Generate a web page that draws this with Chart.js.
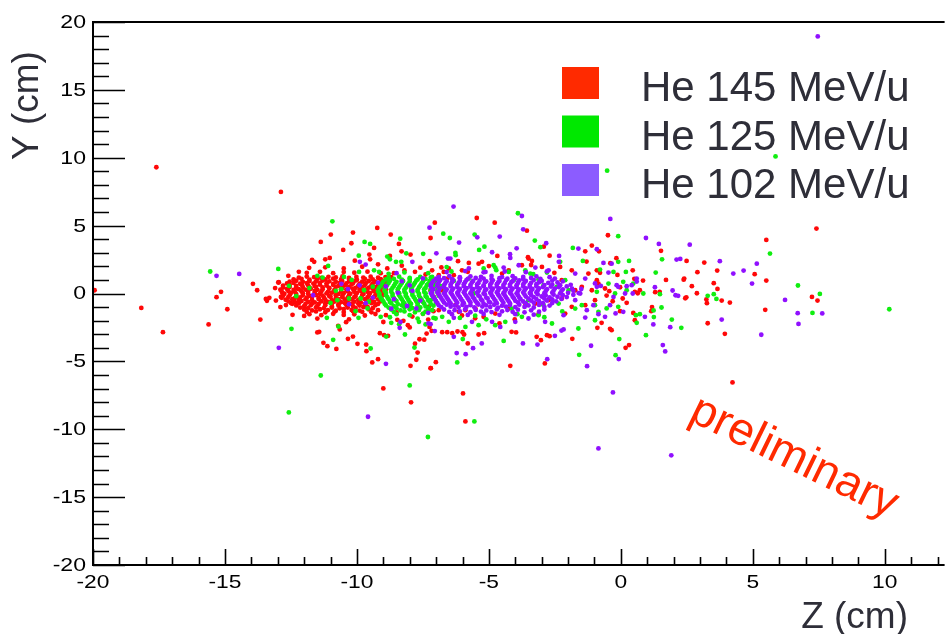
<!DOCTYPE html>
<html>
<head>
<meta charset="utf-8">
<title>He beam vertex distribution</title>
<script src="https://cdn.jsdelivr.net/npm/chart.js@4.4.1/dist/chart.umd.min.js"></script>
<style>
  html, body { margin: 0; padding: 0; background: #fff; }
  canvas { display: block; }
</style>
</head>
<body>
<canvas id="vertex" width="945" height="634"></canvas>
<script>
'use strict';

// series labels and colours (points / legend boxes)
var seriesLabels = ['He 145 MeV/u', 'He 125 MeV/u', 'He 102 MeV/u'];
var pointColors = ['#ff0808', '#10ee10', '#9010ff'];
var legendColors = ['#ff2a00', '#00e800', '#8c5cff'];

// tick labels
var zTickLabels = [-20, -15, -10, -5, 0, 5, 10];
var yTickLabels = [-20, -15, -10, -5, 0, 5, 10, 15, 20];

// He 145 MeV/u  [Z, Y] in cm
var he145 = [
  [-19.94,0.24],[-18.17,-1.06],[-17.6,9.3],[-17.35,-2.85],[-15.62,-2.28],[-15.15,0.12],[-15.32,-0.27],[-14.91,-1.16],[-13.94,0.71],[-13.78,0.24],
  [-13.45,-0.4],[-13.41,-0.54],[-13.66,-1.92],[-12.88,7.48],[-12.96,0.83],[-11.5,-2.87],[-11.43,-2.82],[-11.27,-3.63],[-11.12,-3.88],[-10.78,-4.08],
  [-11.37,3.8],[-10.99,4.34],[-10.15,4.49],[-9.23,4.83],[-8.72,4.34],[-10.21,3.7],[-9.35,3.36],[-8.41,3.65],[-10.52,3.21],[-8.31,3.11],
  [-7.97,2.87],[-7.21,4.09],[-11.7,2.47],[-11.62,2.33],[-11.2,2.52],[-11.03,2.62],[-10.08,2.42],[-9.53,2.87],[-9.5,2.52],[-8.75,2.77],
  [-7.24,2.38],[-11.81,1.89],[-12.98,0.81],[-13.32,-0.32],[-13.07,-0.52],[-12.82,0.0],[-12.88,-0.25],[-12.69,-0.85],[-12.5,-0.7],[-12.44,-1.57],[-12.0,-1.65],
  [-9.64,-4.25],[-9.42,-5.08],[-9.2,-4.84],[-9.0,-6.99],[-7.95,-8.02],[-7.2,-5.5],[-7.97,-5.33],[-7.75,-4.88],[-7.7,-4.35],[-7.8,-3.7],
  [-7.63,-3.37],[-7.45,-3.4],[-7.36,-2.95],[-10.71,-2.38],[-10.65,-2.65],[-10.41,-2.11],[-10.34,-3.34],[-10.15,-3.17],[-9.98,-3.71],[-9.65,-3.76],
  [-8.97,-3.07],[-8.82,-3.12],[-9.13,-2.92],[-8.47,-1.94],[-8.24,-2.01],[-8.07,-2.33],[-8.0,-2.5],[-7.3,-1.92],[-7.25,-2.46],
  [-8.6,1.5],[-8.2,1.7],[-7.6,1.9],[-7.4,1.4],[-8.9,-1.6],[-8.5,-1.4],[-7.9,-1.7],[-7.5,-1.5],[-7.1,-1.3],[-8.7,1.2],[-7.8,1.6],
  [-5.46,5.56],[-7.05,5.22],[-4.78,5.22],[-3.56,4.63],[-2.92,3.45],[-1.1,3.53],[-1.35,3.11],[-2.7,2.79],[-4.68,2.77],[-6.17,2.38],
  [-3.52,2.67],[-3.37,2.4],[-1.3,2.35],[-7.17,-2.75],[-6.77,-2.85],[-6.58,-2.85],[-6.39,-2.92],[-6.19,-2.8],[-6.0,-2.85],[-5.94,-3.02],
  [-5.39,-3.02],[-5.18,-2.92],[-5.8,-3.68],[-4.14,-2.82],[-3.97,-2.87],[-3.19,-3.19],[-3.03,-3.44],[-2.8,-3.07],[-2.7,-3.14],[-1.84,-3.34],
  [-7.01,-5.06],[-7.21,-5.5],[-4.19,-5.33],[-2.88,-5.15],[-5.98,-7.36],[-5.89,-9.42],
  [-0.49,4.29],[1.52,3.14],[-0.83,3.11],[-0.17,2.6],[-0.4,2.23],[2.49,2.4],[3.16,2.28],[5.51,3.95],[5.07,1.42],[3.65,1.69],
  [2.9,1.57],[1.71,1.0],[2.4,1.1],[2.38,1.02],[2.69,0.54],[3.52,0.76],[3.66,0.34],[5.51,0.95],[0.84,0.95],[1.47,0.12],
  [1.3,0.1],[2.44,-0.35],[2.48,-0.28],[2.88,0.02],[3.24,-0.44],[3.26,-0.71],[3.82,-0.52],[4.13,-0.67],[3.29,-2.19],[3.94,-2.97],
  [5.47,-1.2],[1.18,-1.0],[1.15,-1.3],[0.31,-3.8],[0.18,-4.0],[4.23,-6.55],[7.41,4.78],[7.24,-0.25],[7.45,-0.52],
  [-0.79,1.52],[-0.91,0.98],[-0.85,0.73],[-0.6,0.37],[-0.54,-0.15],[-0.44,0.17],[-0.31,-0.57],[-0.13,1.37],[-0.03,0.46],[0.07,-0.37],
  [0.22,-0.69],[0.45,1.71],[0.51,1.08],[0.53,0.12],[0.64,0.02],[0.47,-1.43],[0.53,-1.97],[0.72,0.24],[-0.89,-2.53],[-0.41,-2.6],
  [-0.35,-2.7],[-0.03,-1.3],[-0.73,-2.16],
  [-5.76,2.25],[-5.26,2.33],[-4.5,1.47],[-3.5,2.57],[-2.99,1.96],[-2.3,1.96],[-2.24,0.98],[-7.28,-0.98],[-6.9,-1.23],[-6.27,-0.86],
  [-6.14,-1.35],[-5.89,-1.23],[-5.51,-1.11],[-5.2,-1.72],[-4.76,-1.48],[-4.25,-1.11],[-3.62,-0.86],[-3.24,-0.74],[-2.74,-0.49],[-2.24,-0.37],
  [-1.73,0.24],[-1.48,0.49],[-1.1,0.24],[-0.98,-0.49],[-1.35,-0.86],[-1.86,-0.98],[-2.11,-1.48],
  [-7.15,1.71],[-6.9,1.35],[-6.71,1.59],[-6.58,1.1],[-7.02,0.73],[-7.21,0.24],[-6.77,0.24],[-7.09,-0.25],[-6.52,1.84],[-6.02,1.71],
  [-6.33,1.35],[-5.39,2.2],[-4.25,1.71],[-3.75,2.08],[-1.86,1.71],[-1.23,1.47],[-0.91,1.71],
  [-6.8,1.92],[-5.0,2.02],[-4.02,-1.91],[-5.52,-1.83],[-3.12,-1.52],[-2.52,1.52],[-6.02,-1.62],[-4.6,-2.2],[-3.4,2.1],[-5.8,1.6],
  [-8.85,1.85],[-8.3,2.05],[-9.2,2.15],[-12.6,1.3],[-12.9,-1.0],[-13.1,0.4],[-12.2,1.6],[-11.5,-1.85],[-10.3,-1.9],[-9.0,-2.1],
  // dense core
  [-11.2,1.93],[-10.5,1.85],[-9.8,1.97],
  [-11.9,1.52],[-11.4,1.6],[-10.9,1.5],[-10.5,1.58],[-10.1,1.53],[-9.6,1.61],[-9.1,1.5],
  [-12.2,1.17],[-11.9,1.25],[-11.62,1.2],[-11.35,1.14],[-11.08,1.23],[-10.8,1.18],[-10.55,1.26],[-10.3,1.15],[-10.02,1.22],[-9.76,1.17],[-9.48,1.24],[-9.2,1.16],[-8.92,1.21],
  [-12.4,1.04],[-12.1,1.08],[-11.8,1.02],[-11.5,1.07],[-11.2,1.03],[-10.9,1.09],[-10.6,1.04],[-10.3,1.06],[-10.0,1.01],[-9.7,1.08],[-9.4,1.03],[-9.1,1.06],
  [-12.55,0.88],[-12.3,0.94],[-12.05,0.86],[-11.8,0.92],[-11.56,0.87],[-11.3,0.95],[-11.05,0.9],[-10.8,0.86],[-10.56,0.93],[-10.3,0.89],[-10.05,0.95],[-9.8,0.87],[-9.55,0.92],[-9.3,0.88],[-9.05,0.94],[-8.8,0.9],
  [-12.65,0.74],[-12.4,0.78],[-12.15,0.72],[-11.9,0.77],[-11.65,0.73],[-11.4,0.79],[-11.15,0.75],[-10.9,0.71],[-10.65,0.78],[-10.4,0.74],[-10.15,0.76],[-9.9,0.72],[-9.65,0.79],[-9.4,0.73],[-9.15,0.77],[-8.9,0.74],
  [-12.8,0.58],[-12.55,0.64],[-12.3,0.56],[-12.08,0.62],[-11.85,0.6],[-11.6,0.55],[-11.4,0.65],[-11.15,0.59],[-10.9,0.63],[-10.7,0.56],[-10.45,0.61],[-10.2,0.66],[-9.95,0.57],[-9.7,0.62],[-9.45,0.59],[-9.2,0.64],[-8.95,0.57],
  [-12.8,0.44],[-12.55,0.48],[-12.3,0.42],[-12.05,0.47],[-11.8,0.43],[-11.55,0.49],[-11.3,0.45],[-11.05,0.41],[-10.8,0.48],[-10.55,0.44],[-10.3,0.46],[-10.05,0.42],[-9.8,0.49],[-9.55,0.43],[-9.3,0.47],[-9.05,0.44],
  [-12.9,0.28],[-12.65,0.34],[-12.4,0.26],[-12.2,0.32],[-11.95,0.29],[-11.75,0.35],[-11.5,0.27],[-11.3,0.31],[-11.05,0.36],[-10.85,0.26],[-10.6,0.32],[-10.4,0.29],[-10.15,0.34],[-9.9,0.27],[-9.65,0.31],[-9.4,0.35],[-9.15,0.28],[-8.9,0.32],
  [-12.85,0.14],[-12.6,0.18],[-12.35,0.12],[-12.1,0.17],[-11.85,0.13],[-11.6,0.19],[-11.35,0.15],[-11.1,0.11],[-10.85,0.18],[-10.6,0.14],[-10.35,0.16],[-10.1,0.12],[-9.85,0.19],[-9.6,0.13],[-9.35,0.17],[-9.1,0.14],
  [-12.75,-0.02],[-12.5,0.04],[-12.3,-0.04],[-12.05,0.02],[-11.85,-0.01],[-11.6,0.05],[-11.4,-0.03],[-11.15,0.01],[-10.95,0.06],[-10.7,-0.04],[-10.5,0.02],[-10.25,-0.01],[-10.0,0.04],[-9.75,-0.03],[-9.5,0.03],[-9.25,-0.02],[-9.0,0.05],
  [-12.8,-0.16],[-12.55,-0.12],[-12.3,-0.18],[-12.05,-0.13],[-11.8,-0.17],[-11.55,-0.11],[-11.3,-0.15],[-11.05,-0.19],[-10.8,-0.12],[-10.55,-0.16],[-10.3,-0.14],[-10.05,-0.18],[-9.8,-0.11],[-9.55,-0.17],[-9.3,-0.13],[-9.05,-0.16],
  [-12.85,-0.32],[-12.6,-0.26],[-12.35,-0.34],[-12.15,-0.28],[-11.9,-0.31],[-11.7,-0.25],[-11.45,-0.33],[-11.25,-0.29],[-11.0,-0.24],[-10.8,-0.34],[-10.55,-0.28],[-10.35,-0.31],[-10.1,-0.26],[-9.85,-0.33],[-9.6,-0.29],[-9.35,-0.25],[-9.1,-0.32],
  [-12.7,-0.46],[-12.45,-0.42],[-12.2,-0.48],[-11.95,-0.43],[-11.7,-0.47],[-11.45,-0.41],[-11.2,-0.45],[-10.95,-0.49],[-10.7,-0.42],[-10.45,-0.46],[-10.2,-0.44],[-9.95,-0.48],[-9.7,-0.41],[-9.45,-0.47],[-9.2,-0.43],
  [-12.6,-0.58],[-12.35,-0.63],[-12.1,-0.56],[-11.85,-0.61],[-11.6,-0.65],[-11.35,-0.57],[-11.1,-0.62],[-10.85,-0.59],[-10.6,-0.64],[-10.35,-0.56],[-10.1,-0.6],[-9.85,-0.66],[-9.6,-0.58],[-9.35,-0.62],[-9.1,-0.57],
  [-12.45,-0.76],[-12.2,-0.72],[-11.95,-0.78],[-11.7,-0.73],[-11.45,-0.77],[-11.2,-0.71],[-10.95,-0.75],[-10.7,-0.79],[-10.45,-0.72],[-10.2,-0.76],[-9.95,-0.74],[-9.7,-0.78],[-9.45,-0.71],[-9.2,-0.77],
  [-12.3,-0.88],[-12.0,-0.94],[-11.75,-0.87],[-11.5,-0.92],[-11.2,-0.86],[-10.95,-0.95],[-10.7,-0.9],[-10.4,-0.85],[-10.15,-0.93],[-9.9,-0.89],[-9.6,-0.96],[-9.3,-0.87],
  [-12.15,-1.04],[-11.85,-1.08],[-11.55,-1.02],[-11.25,-1.07],[-10.95,-1.03],[-10.65,-1.09],[-10.35,-1.04],[-10.05,-1.06],[-9.75,-1.01],[-9.4,-1.08],
  [-12.0,-1.18],[-11.7,-1.25],[-11.4,-1.16],[-11.1,-1.22],[-10.8,-1.27],[-10.5,-1.15],[-10.2,-1.21],[-9.9,-1.26],[-9.55,-1.17],[-9.2,-1.23],
  [-11.9,-1.36],[-11.55,-1.32],[-11.2,-1.38],[-10.85,-1.33],[-10.5,-1.37],[-10.15,-1.31],[-9.8,-1.35],[-9.45,-1.39],
  [-11.8,-1.52],[-11.35,-1.6],[-10.9,-1.5],[-10.5,-1.58],[-10.1,-1.53],[-9.7,-1.62],[-9.3,-1.51]
];

// He 125 MeV/u  [Z, Y] in cm
var he125 = [
  [-15.56,1.62],[-12.98,1.81],[-12.57,0.56],[-12.48,-2.6],[-12.58,-8.76],[-11.37,-6.04],[-10.93,5.32],[-9.71,3.8],[-9.5,3.65],[-8.36,4.04],
  [-8.13,2.96],[-7.49,2.92],[-11.09,2.03],[-9.93,2.79],[-8.52,2.33],[-8.32,2.33],[-8.75,2.52],[-8.85,2.72],[-10.9,-3.41],[-9.48,-4.05],
  [-8.0,-6.77],[-7.31,-10.57],[-7.82,-3.98],[-8.89,-3.17],[-10.7,-2.43],[-8.18,-3.02],[-8.7,-2.16],[-8.4,-2.26],[-7.65,-2.09],[-7.4,-2.28],[-7.1,-1.8],
  [-11.3,1.17],[-10.59,0.32],[-10.3,-0.37],[-9.73,0.24],[-9.86,-0.37],[-9.92,1.59],[-10.74,-0.49],[-11.14,-1.79],[-9.94,-1.79],[-9.1,-1.72],
  [-10.49,1.22],[-9.35,1.71],[-9.16,1.59],
  [-11.8,0.4],[-11.0,-0.7],[-10.2,1.0],[-12.3,-0.2],[-9.6,-1.1],[-10.8,0.2],[-11.5,1.3],[-9.4,0.5],[-9.55,-0.6],[-10.05,-1.3],
  [-7.21,-0.49],[-7.15,1.22],[-6.96,0.49],[-6.65,0.24],[-6.33,0.93],[-5.76,1.1],[-5.57,0.0],[-4.82,2.08],[-4.76,1.91],[-5.2,1.84],
  [-4.25,1.59],[-4.06,0.98],[-3.62,1.71],[-3.43,1.47],[-3.12,1.03],[-2.93,0.61],[-2.8,1.54],[-2.43,0.49],[-2.3,2.33],[-2.11,0.98],
  [-1.98,0.24],[-1.73,-1.11],[-1.48,-0.86],[-2.36,-0.74],[-2.93,-0.86],[-3.5,-0.49],[-4.13,-1.11],[-4.38,-2.09],[-4.76,-2.33],[-5.39,-2.33],
  [-5.89,-2.46],[-6.52,-2.09],[-6.77,-1.72],[-7.02,-1.84],[-7.15,-1.23],[-3.75,-1.72],[-3.12,-1.6],[-2.61,-2.21],[-1.61,-2.58],[-0.98,-1.97],
  [-6.42,1.62],[-5.52,-1.64],[-4.72,1.72],[-3.92,-1.52],[-3.32,1.42],[-2.22,-1.32],[-6.1,-1.8],[-5.1,-1.9],[-2.9,-1.75],[-6.6,1.95],
  [-6.73,4.41],[-6.48,4.09],[-5.54,4.34],[-5.17,3.45],[-5.37,3.21],[-3.26,3.9],[-3.05,3.41],[-1.82,3.36],[-1.44,2.4],[-6.27,3.0],[-6.26,2.82],[-3.9,5.91],
  [-5.99,-3.36],[-4.44,-3.49],[-1.58,-4.52],[-6.2,-5.08],[-5.55,-9.42],
  [-0.52,9.05],[-0.1,4.22],[-0.1,2.33],[0.31,2.4],[1.56,2.52],[1.32,1.54],[1.48,-0.05],[3.29,-0.17],[3.52,-0.05],[3.62,-0.4],
  [1.54,-1.03],[2.29,-2.53],[1.93,-1.92],[1.24,-1.25],[1.25,-1.74],[0.95,-3.07],[-0.06,-3.36],[-0.2,-4.54],
  [-0.91,0.12],[-0.79,1.76],[-0.47,0.73],[-0.28,1.59],[-0.22,0.0],[0.09,0.86],[0.19,1.59],[0.22,0.24],[0.47,0.73],[0.57,-1.6],
  [0.85,0.0],[-0.85,-1.35],[-0.54,-1.1],[-0.98,-0.86],[-0.1,-0.98],[0.6,-2.16],[0.72,-1.52],
  [5.86,10.1],[5.65,2.94],[6.71,0.59],[7.54,-0.03],[7.26,-1.43],[10.17,-1.16],
  // dense core
  [-8.8,1.17],[-8.4,1.24],[-8.0,1.15],[-7.6,1.22],[-7.2,1.18],
  [-8.9,1.04],[-8.6,1.08],[-8.3,1.02],[-8.0,1.07],[-7.7,1.03],[-7.4,1.06],[-7.1,1.01],
  [-9.0,0.88],[-8.75,0.94],[-8.5,0.86],[-8.25,0.92],[-8.0,0.89],[-7.75,0.95],[-7.5,0.87],[-7.25,0.93],[-7.0,0.9],
  [-9.05,0.74],[-8.8,0.78],[-8.55,0.72],[-8.3,0.77],[-8.05,0.73],[-7.8,0.79],[-7.55,0.75],[-7.3,0.71],[-7.05,0.77],
  [-9.1,0.58],[-8.85,0.64],[-8.6,0.56],[-8.35,0.62],[-8.1,0.59],[-7.85,0.65],[-7.6,0.57],[-7.35,0.61],[-7.1,0.63],[-6.85,0.56],
  [-9.15,0.44],[-8.9,0.48],[-8.65,0.42],[-8.4,0.47],[-8.15,0.43],[-7.9,0.49],[-7.65,0.45],[-7.4,0.41],[-7.15,0.47],[-6.9,0.43],
  [-9.2,0.28],[-8.95,0.34],[-8.7,0.26],[-8.45,0.32],[-8.2,0.29],[-7.95,0.35],[-7.7,0.27],[-7.45,0.31],[-7.2,0.34],[-6.95,0.26],
  [-9.2,0.14],[-8.95,0.18],[-8.7,0.12],[-8.45,0.17],[-8.2,0.13],[-7.95,0.19],[-7.7,0.15],[-7.45,0.11],[-7.2,0.17],[-6.95,0.13],
  [-9.15,-0.02],[-8.9,0.04],[-8.65,-0.04],[-8.4,0.02],[-8.15,-0.01],[-7.9,0.05],[-7.65,-0.03],[-7.4,0.01],[-7.15,0.04],[-6.9,-0.03],
  [-9.15,-0.16],[-8.9,-0.12],[-8.65,-0.18],[-8.4,-0.13],[-8.15,-0.17],[-7.9,-0.11],[-7.65,-0.15],[-7.4,-0.19],[-7.15,-0.12],[-6.9,-0.16],
  [-9.1,-0.32],[-8.85,-0.26],[-8.6,-0.34],[-8.35,-0.28],[-8.1,-0.31],[-7.85,-0.25],[-7.6,-0.33],[-7.35,-0.29],[-7.1,-0.26],
  [-9.05,-0.46],[-8.8,-0.42],[-8.55,-0.48],[-8.3,-0.43],[-8.05,-0.47],[-7.8,-0.41],[-7.55,-0.45],[-7.3,-0.49],[-7.05,-0.42],
  [-9.0,-0.58],[-8.75,-0.63],[-8.5,-0.56],[-8.25,-0.61],[-8.0,-0.65],[-7.75,-0.57],[-7.5,-0.62],[-7.25,-0.59],[-7.0,-0.64],
  [-8.95,-0.76],[-8.7,-0.72],[-8.45,-0.78],[-8.2,-0.73],[-7.95,-0.77],[-7.7,-0.71],[-7.45,-0.75],[-7.2,-0.79],
  [-8.9,-0.88],[-8.6,-0.94],[-8.3,-0.87],[-8.0,-0.92],[-7.7,-0.86],[-7.4,-0.95],[-7.1,-0.9],
  [-8.8,-1.04],[-8.5,-1.08],[-8.2,-1.02],[-7.9,-1.07],[-7.6,-1.03],[-7.3,-1.06],
  [-8.7,-1.18],[-8.35,-1.25],[-8.0,-1.16],[-7.65,-1.22],[-7.3,-1.27],
  [-8.6,-1.36],[-8.2,-1.32],[-7.8,-1.38],[-7.4,-1.33],
  [-8.5,-1.52],[-8.0,-1.6],[-7.5,-1.5],[-8.8,1.45],[-8.2,1.55],[-7.3,1.5],[-8.75,-1.75],[-7.7,-1.85]
];

// He 102 MeV/u  [Z, Y] in cm
var he102 = [
  [-15.32,1.3],[-14.46,1.44],[-12.96,-4.0],[-11.66,-0.13],[-10.59,0.71],[-10.34,0.32],[-9.67,-0.71],[-9.89,2.33],[-9.67,2.13],[-7.9,2.33],
  [-7.25,4.85],[-8.9,-5.18],[-9.58,-9.08],[-8.38,-2.53],[-8.35,-2.1],[-7.29,-2.2],[7.46,18.94],
  [-8.9,0.52],[-8.6,-0.42],[-8.3,0.9],[-8.1,-0.92],[-7.9,0.2],[-7.6,-0.52],[-7.5,1.12],[-8.7,-1.12],[-9.2,0.8],[-7.3,-1.42],
  [-8.45,0.05],[-9.4,-0.3],[-9.9,0.6],[-10.3,-0.8],[-8.0,0.6],[-7.75,-1.1],[-8.5,1.5],
  [-6.34,6.4],[-3.75,5.71],[-3.7,4.73],[-5.44,4.14],[-4.59,4.19],[-6.13,3.75],[-2.83,3.7],[-3.95,3.33],[-1.61,3.31],
  [-0.91,3.26],[-6.99,2.96],[-4.88,3.04],[-4.2,2.9],[-4.19,2.62],[-6.46,2.57],[-6.55,2.57],[-2.34,2.77],[-2.35,2.33],
  [-7.21,-2.26],[-7.05,-2.77],[-6.33,-3.19],[-5.27,-3.68],[-5.6,-4.03],[-3.71,-3.68],[-3.16,-3.76],[-2.5,-3.12],[-2.25,-2.73],[-2.17,-2.65],
  [-1.13,-3.85],[-1.28,-5.35],[-6.22,-4.39],[-5.88,-4.47],[-2.79,-4.84],
  [-0.4,5.49],[0.95,4.09],[1.44,3.65],[2.61,3.6],[2.11,2.5],[2.25,2.55],[3.75,2.38],[5.15,2.2],[4.65,1.69],[4.26,1.47],
  [4.97,0.73],[0.6,0.88],[1.29,0.46],[1.96,0.22],[2.07,-0.13],[2.17,-0.17],[3.82,-1.92],[5.32,-3.04],[1.87,-2.48],[1.23,-2.28],
  [1.59,-3.8],[1.68,-4.27],[-0.08,-4.83],[-0.3,-7.29],[-0.85,-11.41],[1.91,-11.92],
  [-0.91,0.49],[-0.76,0.56],[-0.47,1.54],[-0.35,2.2],[-0.66,2.25],[-0.16,0.61],[-0.1,0.49],[0.22,0.54],[0.41,0.61],[0.45,0.0],
  [0.16,0.0],[-0.28,-0.25],[-0.41,-0.86],[-0.2,-1.47],[-0.6,-1.72],[-0.85,-1.52],[0.09,-1.35],[0.6,1.1],[0.91,-1.72],
  [6.22,-0.47],[6.7,-1.45],[7.63,-1.47],[6.73,-2.24],
  [-6.33,-1.79],[-5.64,-2.09],[-4.88,-2.09],[-4.57,-2.46],[-4.0,-2.09],[-3.5,-1.84],[-2.87,-2.09],[-2.17,-1.6],[-1.35,-1.77],[-1.29,-1.23],
  [-1.04,-0.86],[-1.73,-0.49],[-1.54,0.0],[-0.98,0.74],[-1.35,1.1],[-1.73,1.47],[-5.76,1.84],[-5.13,1.59],[-4.44,1.91],[-3.87,2.08],
  [-3.24,1.91],[-2.74,1.71],
  // dense core
  [-6.6,1.58],[-5.9,1.65],[-5.2,1.56],[-4.4,1.62],[-3.6,1.57],[-2.8,1.63],
  [-6.9,1.22],[-6.5,1.28],[-6.1,1.2],[-5.7,1.26],[-5.3,1.23],[-4.9,1.29],[-4.5,1.21],[-4.1,1.27],[-3.7,1.22],[-3.2,1.26],[-2.7,1.2],
  [-7.0,1.09],[-6.7,1.13],[-6.4,1.07],[-6.1,1.12],[-5.8,1.08],[-5.5,1.14],[-5.2,1.1],[-4.9,1.06],[-4.6,1.13],[-4.3,1.09],[-4.0,1.11],[-3.7,1.07],[-3.4,1.14],[-3.05,1.08],[-2.5,1.1],
  [-7.1,0.93],[-6.85,0.98],[-6.6,0.91],[-6.35,0.97],[-6.1,0.94],[-5.85,0.99],[-5.6,0.92],[-5.35,0.96],[-5.1,0.9],[-4.85,0.97],
  [-4.6,0.93],[-4.35,0.98],[-4.1,0.91],[-3.85,0.96],[-3.6,0.93],[-3.3,0.99],[-3.0,0.92],[-2.6,0.95],[-2.2,0.9],
  [-7.15,0.79],[-6.9,0.83],[-6.65,0.77],[-6.4,0.82],[-6.15,0.78],[-5.9,0.84],[-5.65,0.8],[-5.4,0.76],[-5.15,0.83],[-4.9,0.79],
  [-4.65,0.81],[-4.4,0.77],[-4.15,0.84],[-3.9,0.78],[-3.65,0.82],[-3.4,0.79],[-3.1,0.83],[-2.75,0.78],[-2.4,0.81],
  [-7.2,0.63],[-6.95,0.68],[-6.7,0.61],[-6.45,0.66],[-6.2,0.64],[-5.95,0.69],[-5.7,0.62],[-5.45,0.67],[-5.2,0.6],[-4.95,0.65],
  [-4.7,0.68],[-4.45,0.62],[-4.2,0.66],[-3.95,0.61],[-3.7,0.67],[-3.45,0.63],[-3.2,0.68],[-2.9,0.62],[-2.6,0.66],[-2.3,0.61],[-1.9,0.64],
  [-7.2,0.49],[-6.95,0.53],[-6.7,0.47],[-6.45,0.52],[-6.2,0.48],[-5.95,0.54],[-5.7,0.5],[-5.45,0.46],[-5.2,0.53],[-4.95,0.49],
  [-4.7,0.51],[-4.45,0.47],[-4.2,0.54],[-3.95,0.48],[-3.7,0.52],[-3.45,0.49],[-3.2,0.53],[-2.95,0.47],[-2.65,0.51],[-2.35,0.48],[-2.05,0.52],
  [-7.1,0.33],[-6.85,0.38],[-6.6,0.31],[-6.35,0.36],[-6.1,0.34],[-5.85,0.39],[-5.6,0.32],[-5.35,0.37],[-5.1,0.3],[-4.85,0.35],[-4.6,0.38],
  [-4.35,0.32],[-4.1,0.36],[-3.85,0.31],[-3.6,0.37],[-3.35,0.33],[-3.1,0.38],[-2.8,0.32],[-2.5,0.36],[-2.2,0.31],[-1.85,0.35],[-1.5,0.33],
  [-7.15,0.19],[-6.9,0.23],[-6.65,0.17],[-6.4,0.22],[-6.15,0.18],[-5.9,0.24],[-5.65,0.2],[-5.4,0.16],[-5.15,0.23],[-4.9,0.19],
  [-4.65,0.21],[-4.4,0.17],[-4.15,0.24],[-3.9,0.18],[-3.65,0.22],[-3.4,0.19],[-3.15,0.23],[-2.85,0.17],[-2.55,0.21],[-2.25,0.18],[-1.8,0.2],
  [-7.2,0.03],[-6.95,0.08],[-6.7,0.01],[-6.45,0.06],[-6.2,0.04],[-5.95,0.09],[-5.7,0.02],[-5.45,0.07],[-5.2,0.0],[-4.95,0.05],[-4.7,0.08],
  [-4.45,0.02],[-4.2,0.06],[-3.95,0.01],[-3.7,0.07],[-3.45,0.03],[-3.2,0.08],[-2.9,0.02],[-2.6,0.06],[-2.3,0.01],[-2.0,0.05],[-1.6,0.03],
  [-7.15,-0.11],[-6.9,-0.07],[-6.65,-0.13],[-6.4,-0.08],[-6.15,-0.12],[-5.9,-0.06],[-5.65,-0.1],[-5.4,-0.14],[-5.15,-0.07],[-4.9,-0.11],
  [-4.65,-0.09],[-4.4,-0.13],[-4.15,-0.06],[-3.9,-0.12],[-3.65,-0.08],[-3.4,-0.11],[-3.15,-0.07],[-2.85,-0.13],[-2.55,-0.09],[-2.2,-0.12],[-1.8,-0.1],
  [-7.1,-0.27],[-6.85,-0.22],[-6.6,-0.29],[-6.35,-0.24],[-6.1,-0.26],[-5.85,-0.21],[-5.6,-0.28],[-5.35,-0.23],[-5.1,-0.3],[-4.85,-0.25],
  [-4.6,-0.22],[-4.35,-0.28],[-4.1,-0.24],[-3.85,-0.29],[-3.6,-0.23],[-3.3,-0.27],[-3.0,-0.22],[-2.7,-0.28],[-2.4,-0.24],[-2.05,-0.26],
  [-7.05,-0.41],[-6.8,-0.37],[-6.55,-0.43],[-6.3,-0.38],[-6.05,-0.42],[-5.8,-0.36],[-5.55,-0.4],[-5.3,-0.44],[-5.05,-0.37],[-4.8,-0.41],
  [-4.55,-0.39],[-4.3,-0.43],[-4.05,-0.36],[-3.8,-0.42],[-3.5,-0.38],[-3.2,-0.41],[-2.9,-0.37],[-2.6,-0.43],[-2.25,-0.4],
  [-7.0,-0.57],[-6.75,-0.52],[-6.5,-0.59],[-6.25,-0.54],[-6.0,-0.56],[-5.75,-0.51],[-5.5,-0.58],[-5.25,-0.53],[-5.0,-0.6],[-4.75,-0.55],
  [-4.5,-0.52],[-4.25,-0.58],[-4.0,-0.54],[-3.7,-0.59],[-3.4,-0.53],[-3.1,-0.57],[-2.8,-0.52],[-2.45,-0.58],
  [-6.95,-0.71],[-6.7,-0.67],[-6.45,-0.73],[-6.2,-0.68],[-5.95,-0.72],[-5.7,-0.66],[-5.45,-0.7],[-5.2,-0.74],[-4.95,-0.67],[-4.7,-0.71],
  [-4.45,-0.69],[-4.2,-0.73],[-3.9,-0.66],[-3.6,-0.72],[-3.3,-0.68],[-2.95,-0.71],[-2.6,-0.7],
  [-6.9,-0.87],[-6.6,-0.82],[-6.3,-0.89],[-6.0,-0.84],[-5.7,-0.86],[-5.4,-0.81],[-5.1,-0.88],[-4.8,-0.83],[-4.5,-0.9],[-4.2,-0.85],
  [-3.85,-0.82],[-3.5,-0.88],[-3.1,-0.84],[-2.7,-0.89],
  [-6.8,-1.01],[-6.45,-0.97],[-6.15,-1.03],[-5.85,-0.98],[-5.55,-1.02],[-5.25,-0.96],[-4.95,-1.0],[-4.65,-1.04],[-4.35,-0.97],[-4.0,-1.01],
  [-3.65,-0.99],[-3.3,-1.03],[-2.9,-0.98],
  [-6.7,-1.18],[-6.3,-1.23],[-5.9,-1.16],[-5.5,-1.21],[-5.1,-1.25],[-4.7,-1.17],[-4.3,-1.22],[-3.9,-1.19],[-3.4,-1.24],[-2.9,-1.18],
  [-6.5,-1.36],[-6.1,-1.32],[-5.7,-1.38],[-5.3,-1.33],[-4.9,-1.37],[-4.5,-1.31],[-4.1,-1.35],[-3.65,-1.39],[-3.1,-1.34],
  [-6.4,-1.53],[-5.8,-1.58],[-5.2,-1.51],[-4.6,-1.57],[-4.0,-1.52],[-3.3,-1.56]
];

var seriesData = [he145, he125, he102];
var drawOrder = [3, 2, 1];   // purple on top, red at the bottom

var textFont = '"Liberation Sans", Arial, Helvetica, sans-serif';
var titleColor = '#2e2e38';

// ROOT-style frame: inward ticks, stretched tick labels, titles, legend, watermark
var rootFrame = {
  id: 'rootFrame',
  afterDraw: function (chart) {
    var ctx = chart.ctx;
    var a = chart.chartArea;
    var xs = chart.scales.x;
    var ys = chart.scales.y;
    ctx.save();

    ctx.strokeStyle = '#000';
    ctx.lineWidth = 2;
    ctx.beginPath();
    ctx.moveTo(a.right + 2, a.top);
    ctx.lineTo(a.left, a.top);
    ctx.lineTo(a.left, a.bottom);
    ctx.lineTo(a.right + 2, a.bottom);
    ctx.stroke();

    ctx.lineWidth = 1.6;
    ctx.beginPath();
    for (var v = Math.ceil(ys.min); v <= ys.max; v++) {
      var py = Math.round(ys.getPixelForValue(v)) + 0.5;
      var len = v % 5 === 0 ? 32 : 16;
      ctx.moveTo(a.left, py);
      ctx.lineTo(a.left + len, py);
    }
    for (var w = Math.ceil(xs.min); w <= xs.max; w++) {
      var px = Math.round(xs.getPixelForValue(w)) + 0.5;
      var l2 = w % 5 === 0 ? 16 : 8;
      ctx.moveTo(px, a.bottom);
      ctx.lineTo(px, a.bottom - l2);
    }
    ctx.stroke();

    // tick labels
    ctx.fillStyle = '#000';
    ctx.font = '18px ' + textFont;
    ctx.textAlign = 'right';
    ctx.textBaseline = 'middle';
    yTickLabels.forEach(function (t) {
      ctx.save();
      ctx.translate(a.left - 7, ys.getPixelForValue(t) + 1);
      ctx.scale(1.28, 1);
      ctx.fillText(String(t), 0, 0);
      ctx.restore();
    });
    ctx.font = '19px ' + textFont;
    ctx.textAlign = 'center';
    ctx.textBaseline = 'top';
    zTickLabels.forEach(function (t) {
      ctx.save();
      ctx.translate(xs.getPixelForValue(t), a.bottom + 8);
      ctx.scale(1.2, 1);
      ctx.fillText(String(t), 0, 0);
      ctx.restore();
    });

    // axis titles
    ctx.fillStyle = titleColor;
    ctx.font = '37px ' + textFont;
    ctx.textAlign = 'right';
    ctx.textBaseline = 'alphabetic';
    ctx.fillText('Z (cm)', 908, 628);
    ctx.save();
    ctx.translate(38, 160);
    ctx.rotate(-Math.PI / 2);
    ctx.textAlign = 'left';
    ctx.fillText('Y (cm)', 0, 0);
    ctx.restore();

    // legend
    ctx.font = '42px ' + textFont;
    ctx.textAlign = 'left';
    chart.data.datasets.forEach(function (ds, i) {
      var top = 67 + i * 48.5;
      ctx.fillStyle = legendColors[i];
      ctx.fillRect(562, top, 37, 32);
      ctx.fillStyle = titleColor;
      ctx.fillText(ds.label, 641, top + 34);
    });

    // watermark
    ctx.fillStyle = '#ff2a00';
    ctx.font = '46px ' + textFont;
    ctx.textAlign = 'center';
    ctx.textBaseline = 'middle';
    ctx.translate(xs.getPixelForValue(6.56), ys.getPixelForValue(-12.1));
    ctx.rotate(26 * Math.PI / 180);
    ctx.fillText('preliminary', 0, 0);

    ctx.restore();
  }
};

var datasets = seriesLabels.map(function (label, i) {
  return {
    label: label,
    data: seriesData[i].map(function (p) { return { x: p[0], y: p[1] }; }),
    backgroundColor: pointColors[i],
    borderWidth: 0,
    pointRadius: 2.4,
    pointHoverRadius: 2.4,
    order: drawOrder[i]
  };
});

var chart = new Chart(document.getElementById('vertex'), {
  type: 'scatter',
  data: { datasets: datasets },
  options: {
    responsive: false,
    animation: false,
    devicePixelRatio: 1,
    layout: { padding: { top: 22, right: 0, bottom: 0, left: 0 } },
    plugins: {
      legend: { display: false },
      tooltip: { enabled: false }
    },
    scales: {
      x: {
        type: 'linear',
        min: -20,
        max: 12.19,
        ticks: { display: false },
        grid: { display: false, drawTicks: false },
        border: { display: false },
        afterFit: function (s) { s.height = 69; }
      },
      y: {
        type: 'linear',
        min: -20,
        max: 20,
        ticks: { display: false },
        grid: { display: false, drawTicks: false },
        border: { display: false },
        afterFit: function (s) { s.width = 93; }
      }
    }
  },
  plugins: [rootFrame]
});
</script>
</body>
</html>
